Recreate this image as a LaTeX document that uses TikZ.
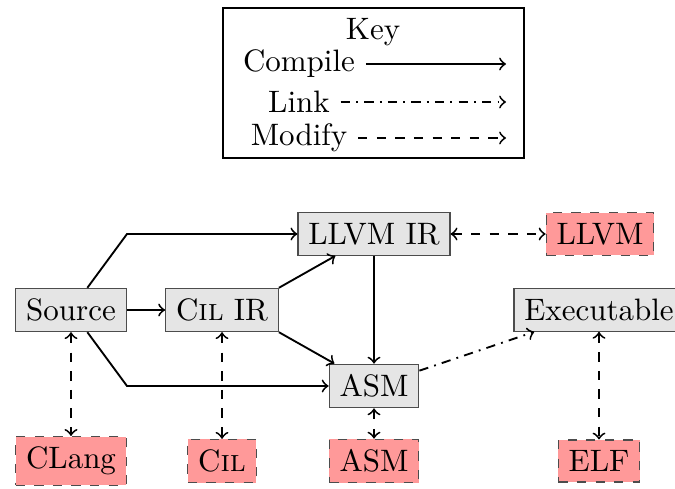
\documentclass[tikz,border=0pt]{standalone}
\begin{document}
\begin{tikzpicture}[x=0.3226pt,y=-0.3226pt,
  box/.style={draw=black!70, fill=black!10, inner sep=3.33pt},
  tool/.style={draw=black!70, dashed, fill=red!40, inner sep=3.33pt},
  comp/.style={->, semithick},
  lnk/.style={->, semithick, dash dot},
  modf/.style={<->, semithick, dashed},
  lbl/.style={inner sep=3.33pt}]
\useasboundingbox (0,0) rectangle (675,489);
% key
\draw[semithick] (223,8) rectangle (524,158);
\node[lbl] (key) at (373,32) {Key};
\node[lbl] (kc) at (299,64) {Compile};
\node[lbl] (kl) at (299,102) {Link};
\node[lbl] (km) at (299,138) {Modify};
\coordinate (kce) at (506,64);
\coordinate (kle) at (506,102);
\coordinate (kme) at (506,138);
\draw[comp] (kc) -- (kce);
\draw[lnk] (kl) -- (kle);
\draw[->, semithick, dashed] (km) -- (kme);
% main nodes
\node[box] (src) at (71,310) {Source};
\node[box] (cilir) at (222,310) {C\textsc{il} IR};
\node[box] (llvmir) at (374,234) {LLVM IR};
\node[box] (asm) at (374,386) {ASM};
\node[box] (exe) at (599,310) {Executable};
\node[tool] (llvm) at (600,234) {LLVM};
\node[tool] (clang) at (71,461) {CLang};
\node[tool] (cil) at (222,461) {C\textsc{il}};
\node[tool] (asmt) at (374,461) {ASM};
\node[tool] (elf) at (599,461) {ELF};
\coordinate (up) at (127,234);
\coordinate (dn) at (127,386);
% edges
\draw[comp] (src) -- (up) -- (llvmir);
\draw[comp] (src) -- (dn) -- (asm);
\draw[comp] (src) -- (cilir);
\draw[comp] (cilir.north east) -- (llvmir);
\draw[comp] (cilir.south east) -- (asm);
\draw[comp] (llvmir) -- (asm);
\draw[lnk] (asm) -- (exe);
\draw[modf] (llvmir) -- (llvm);
\draw[modf] (src) -- (clang);
\draw[modf] (cilir) -- (cil);
\draw[modf] (asm) -- (asmt);
\draw[modf] (exe) -- (elf);
\end{tikzpicture}
\end{document}
